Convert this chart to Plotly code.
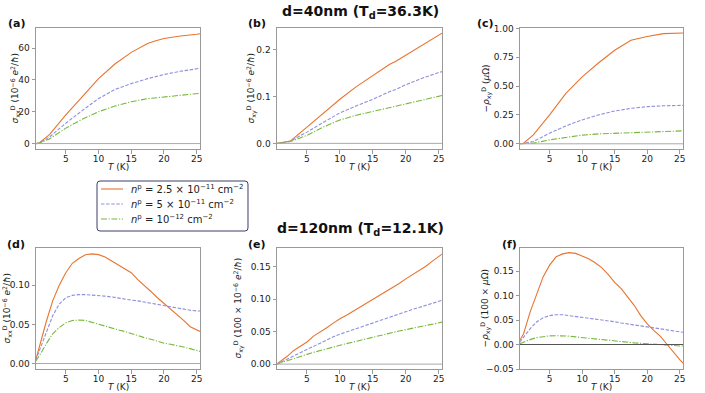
import plotly.graph_objects as go

# temperature grids (K)
T_top = [0.5, 1, 2.5, 5, 7.5, 10, 12.5, 15, 17.5, 18.5, 20, 22.5, 25, 25.5]
T_bot = [0.4, 1, 2, 3, 4, 5, 6, 7, 8, 9, 10, 11, 12, 13, 14, 15, 16, 17, 18,
         19, 20, 21, 22, 23, 24, 25, 25.5]

# d = 40 nm
a_n1 = [0, 0.5, 5.6, 18, 29.4, 40.8, 50, 57.3, 62.8, 64.3, 66, 67.6, 68.7, 69]
a_n2 = [0, 0.4, 4.1, 12.8, 20.7, 28.3, 34, 37.7, 40.8, 41.8, 43.4, 45.4, 47, 47.3]
a_n3 = [0, 0.3, 2.9, 9.7, 15.3, 20, 23.6, 26.3, 28.2, 28.6, 29.4, 30.5, 31.4, 31.6]

b_n1 = [0, 0.001, 0.005, 0.0345, 0.065, 0.094, 0.121, 0.144, 0.168, 0.175, 0.188, 0.21, 0.232, 0.235]
b_n2 = [0, 0.0007, 0.005, 0.024, 0.045, 0.065, 0.08, 0.094, 0.11, 0.115, 0.125, 0.139, 0.151, 0.153]
b_n3 = [0, 0.0005, 0.004, 0.017, 0.035, 0.05, 0.06, 0.068, 0.077, 0.08, 0.085, 0.093, 0.101, 0.102]

c_n1 = [0, 0.005, 0.078, 0.25, 0.437, 0.58, 0.70, 0.81, 0.897, 0.91, 0.93, 0.954, 0.96, 0.96]
c_n2 = [0, 0.003, 0.02, 0.092, 0.155, 0.207, 0.25, 0.284, 0.307, 0.313, 0.322, 0.329, 0.333, 0.333]
c_n3 = [0, 0.001, 0.006, 0.034, 0.055, 0.075, 0.086, 0.092, 0.098, 0.1, 0.103, 0.108, 0.112, 0.112]

# d = 120 nm
d_n1 = [0.004, 0.023, 0.053, 0.08, 0.10, 0.116, 0.128, 0.134, 0.139, 0.140, 0.139, 0.136, 0.131,
        0.127, 0.122, 0.116, 0.107, 0.10, 0.092, 0.084, 0.077, 0.069, 0.063, 0.055, 0.047, 0.043, 0.041]
d_n2 = [0.004, 0.017, 0.040, 0.061, 0.076, 0.084, 0.087, 0.088, 0.088, 0.0875, 0.087, 0.086, 0.085,
        0.0835, 0.082, 0.081, 0.080, 0.0785, 0.077, 0.075, 0.0735, 0.072, 0.071, 0.0695, 0.068, 0.0672, 0.067]
d_n3 = [0.003, 0.0105, 0.025, 0.038, 0.046, 0.052, 0.055, 0.0555, 0.055, 0.0525, 0.050, 0.0475, 0.045,
        0.043, 0.041, 0.038, 0.035, 0.033, 0.031, 0.0285, 0.026, 0.0245, 0.023, 0.021, 0.019, 0.017, 0.0155]

e_n1 = [0, 0.004, 0.012, 0.021, 0.028, 0.034, 0.043, 0.049, 0.056, 0.063, 0.0697, 0.075, 0.081,
        0.087, 0.093, 0.099, 0.105, 0.111, 0.117, 0.124, 0.131, 0.137, 0.143, 0.150, 0.158, 0.166, 0.169]
e_n2 = [0, 0.003, 0.008, 0.012, 0.018, 0.023, 0.028, 0.033, 0.038, 0.042, 0.046, 0.0495, 0.053,
        0.0565, 0.060, 0.0635, 0.067, 0.071, 0.074, 0.0775, 0.081, 0.084, 0.087, 0.090, 0.0935, 0.0966, 0.098]
e_n3 = [0, 0.002, 0.006, 0.009, 0.012, 0.015, 0.018, 0.021, 0.024, 0.0265, 0.029, 0.0315, 0.034,
        0.0365, 0.039, 0.042, 0.0445, 0.047, 0.049, 0.051, 0.053, 0.055, 0.057, 0.059, 0.061, 0.0635, 0.0645]

f_n1 = [0.008, 0.022, 0.066, 0.104, 0.138, 0.162, 0.179, 0.185, 0.1875, 0.186, 0.181, 0.175, 0.167,
        0.157, 0.143, 0.127, 0.114, 0.097, 0.080, 0.059, 0.042, 0.029, 0.017, 0.001, -0.016, -0.031, -0.038]
f_n2 = [0.005, 0.015, 0.032, 0.046, 0.0545, 0.059, 0.0607, 0.0607, 0.059, 0.0575, 0.056, 0.054, 0.0525,
        0.051, 0.049, 0.0465, 0.044, 0.042, 0.040, 0.0375, 0.035, 0.0335, 0.032, 0.030, 0.028, 0.026, 0.025]
f_n3 = [0.0014, 0.005, 0.010, 0.014, 0.016, 0.0177, 0.018, 0.018, 0.017, 0.0155, 0.014, 0.0125, 0.011,
        0.0095, 0.008, 0.0068, 0.0055, 0.0045, 0.0034, 0.0024, 0.0014, 0.0007, 0, -0.001, -0.002, -0.003, -0.0034]

names = [
    "<i>n</i><sup>p</sup> = 2.5 × 10<sup>−11</sup> cm<sup>−2</sup>",
    "<i>n</i><sup>p</sup> = 5 × 10<sup>−11</sup> cm<sup>−2</sup>",
    "<i>n</i><sup>p</sup> = 10<sup>−12</sup> cm<sup>−2</sup>",
]
colors = ["#e8742f", "#8f8fdf", "#78b83a"]
dashes = ["solid", "3.5px,1.6px", "6px,1.6px,1.2px,1.6px"]

sxx = "<i>σ</i><sub>xx</sub><sup>D</sup> (10<sup>−6</sup> <i>e</i><sup>2</sup>/<i>ħ</i>)"
sxy = "<i>σ</i><sub>xy</sub><sup>D</sup> (10<sup>−6</sup> <i>e</i><sup>2</sup>/<i>ħ</i>)"
panels = [
    # label, T, series, y range, y ticks, format, y title, title x (px), label x (px)
    ("(a)", T_top, [a_n1, a_n2, a_n3], [-3.4, 72.6], [0, 20, 40, 60], None, sxx, 15, 16),
    ("(b)", T_top, [b_n1, b_n2, b_n3], [-0.012, 0.246], [0, 0.1, 0.2], ".1f", sxy, 251, 257),
    ("(c)", T_top, [c_n1, c_n2, c_n3], [-0.045, 1.003], [0, 0.25, 0.5, 0.75, 1.0], ".2f",
     "−<i>ρ</i><sub>xy</sub><sup>D</sup> (<i>μ</i>Ω)", 486, 485),
    ("(d)", T_bot, [d_n1, d_n2, d_n3], [-0.007, 0.1475], [0, 0.05, 0.10], ".2f", sxx, 7, 16),
    ("(e)", T_bot, [e_n1, e_n2, e_n3], [-0.0075, 0.1785], [0, 0.05, 0.10, 0.15], ".2f",
     "<i>σ</i><sub>xy</sub><sup>D</sup> (100 × 10<sup>−6</sup> <i>e</i><sup>2</sup>/<i>ħ</i>)", 238, 257),
    ("(f)", T_bot, [f_n1, f_n2, f_n3], [-0.05, 0.197], [-0.05, 0, 0.05, 0.10, 0.15], ".2f",
     "−<i>ρ</i><sub>xy</sub><sup>D</sup> (100 × <i>μ</i>Ω)", 485, 509),
]

W, H = 705, 393
xdoms = [(36, 200), (277, 442), (520, 683)]
ydoms = [(28, 149), (248, 369)]

fig = go.Figure()
frame = "#9a9a9a"
font = "DejaVu Sans"
ink = "#222222"


def px(x, y):
    return x / W, 1 - y / H


def note(text, x, y, size, angle=0, xanchor="center", yanchor="middle", color=ink):
    nx, ny = px(x, y)
    fig.add_annotation(text=text, xref="paper", yref="paper", x=nx, y=ny,
                       xanchor=xanchor, yanchor=yanchor, textangle=angle, showarrow=False,
                       font=dict(size=size, family=font, color=color))


for i, (label, T, series, yr, yt, yfmt, ytitle, tx, lx) in enumerate(panels):
    k = i + 1
    xs = "" if k == 1 else str(k)
    col, row = i % 3, i // 3
    x0, x1 = xdoms[col]
    y0, y1 = ydoms[row]
    for j, ys in enumerate(series):
        fig.add_trace(go.Scatter(
            x=T, y=ys, mode="lines", name=names[j],
            line=dict(color=colors[j], width=1.1, dash=dashes[j]),
            xaxis="x" + xs, yaxis="y" + xs, showlegend=False,
        ))
    zero_col = "#555555" if label == "(f)" else "#aaaaaa"
    fig.add_shape(type="line", xref="x" + xs + " domain", yref="y" + xs,
                  x0=0, x1=1, y0=0, y1=0, line=dict(color=zero_col, width=1))
    common = dict(showline=True, linecolor=frame, linewidth=1, mirror=True,
                  ticks="outside", ticklen=3.5, tickcolor=frame, showgrid=False,
                  zeroline=False, automargin=False,
                  tickfont=dict(size=9, color=ink, family=font))
    fig.update_layout(**{
        "xaxis" + xs: dict(domain=[x0 / W, x1 / W], anchor="y" + xs,
                           range=[0.45, 25.5], tickvals=[5, 10, 15, 20, 25],
                           ticklabelstandoff=-2, **common),
        "yaxis" + xs: dict(domain=[1 - y1 / H, 1 - y0 / H], anchor="x" + xs,
                           range=yr, tickvals=yt, tickformat=yfmt, **common),
    })
    note("<i>T</i> (K)", (x0 + x1) / 2, y1 + 18, 9)
    note(ytitle, tx, (y0 + y1) / 2, 9, angle=-90)
    note("<b>" + label + "</b>", lx, y0 - 4, 11, color="#111")

note("<b>d=40nm (T<sub>d</sub>=36.3K)</b>", 360, 1, 14, yanchor="top", color="#111")
note("<b>d=120nm (T<sub>d</sub>=12.1K)</b>", 360, 218, 14, yanchor="top", color="#111")

# legend box, drawn by hand so the rows sit as tightly as in the original
lx0, ly0, lx1, ly1, r = 97, 181, 248, 231, 3
p = lambda x, y: "%.5f,%.5f" % px(x, y)
path = ("M " + p(lx0 + r, ly0) + " L " + p(lx1 - r, ly0) + " Q " + p(lx1, ly0) + " " + p(lx1, ly0 + r)
        + " L " + p(lx1, ly1 - r) + " Q " + p(lx1, ly1) + " " + p(lx1 - r, ly1)
        + " L " + p(lx0 + r, ly1) + " Q " + p(lx0, ly1) + " " + p(lx0, ly1 - r)
        + " L " + p(lx0, ly0 + r) + " Q " + p(lx0, ly0) + " " + p(lx0 + r, ly0) + " Z")
fig.add_shape(type="path", xref="paper", yref="paper", path=path,
              fillcolor="white", line=dict(color="#3c3c6a", width=1), layer="above")
for j, name in enumerate(names):
    yy = 189 + 15 * j
    sx0, sy = px(101, yy)
    sx1, _ = px(123, yy)
    fig.add_shape(type="line", xref="paper", yref="paper", x0=sx0, x1=sx1, y0=sy, y1=sy,
                  line=dict(color=colors[j], width=1.1, dash=dashes[j]), layer="above")
    note(name, 129, yy, 10, xanchor="left")

fig.update_layout(
    width=W, height=H, margin=dict(l=0, r=0, t=0, b=0),
    paper_bgcolor="white", plot_bgcolor="white", showlegend=False,
)

# drop the browser's default 8px page margin so the figure sits at (0, 0)
fig.write_html("out.html", config={"displayModeBar": False},
               post_script="document.body.style.margin = '0';")
